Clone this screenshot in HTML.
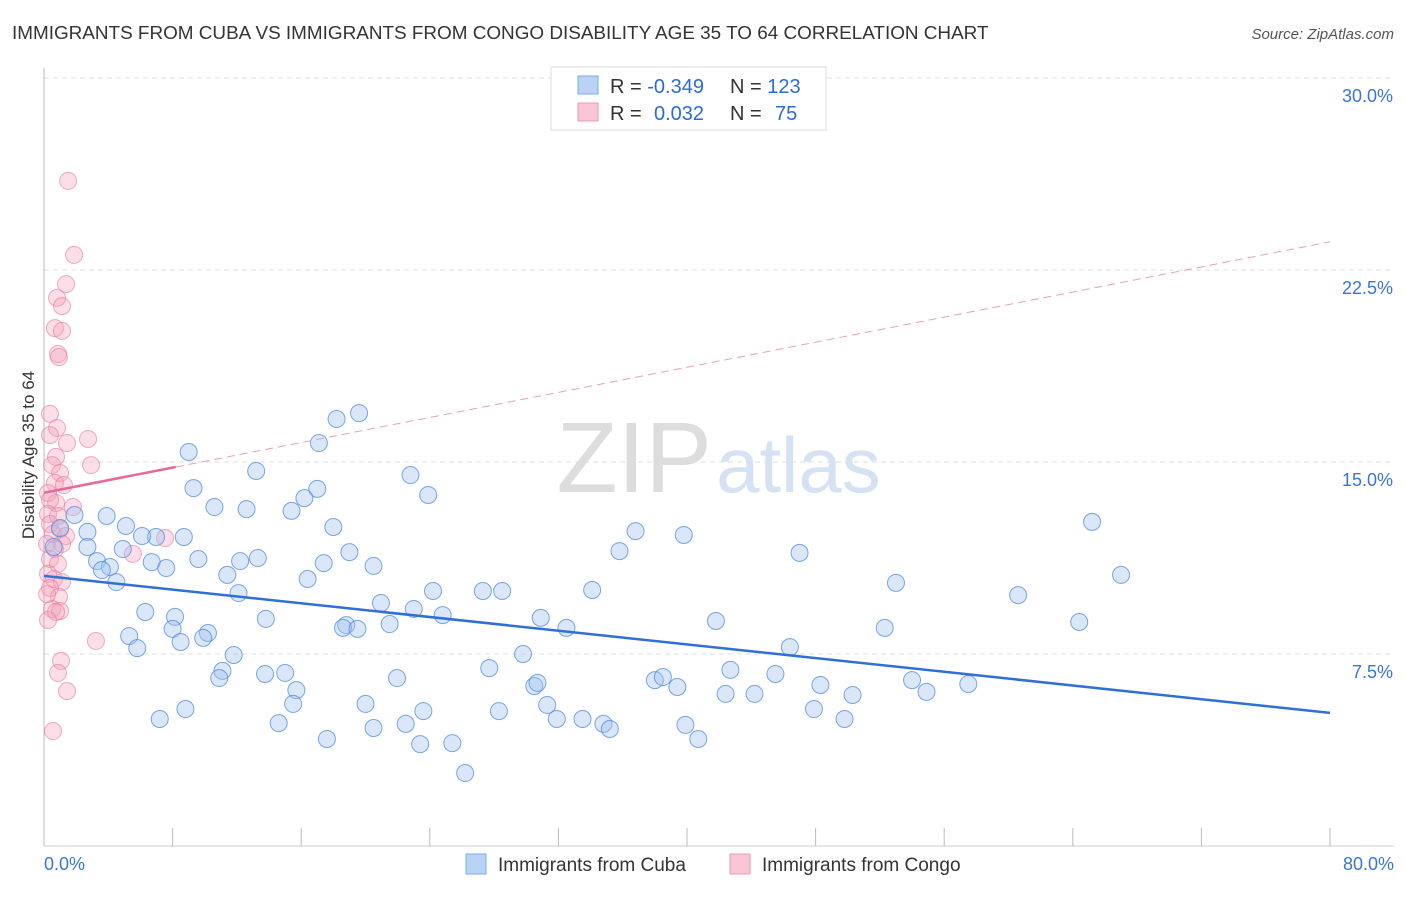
<!DOCTYPE html>
<html><head><meta charset="utf-8"><style>
body{margin:0;background:#fff;font-family:"Liberation Sans",sans-serif}
svg text{font-family:"Liberation Sans",sans-serif}
</style></head><body>
<svg id="c" width="1406" height="892">
<text x="12" y="39" font-size="18.9" fill="#333">IMMIGRANTS FROM CUBA VS IMMIGRANTS FROM CONGO DISABILITY AGE 35 TO 64 CORRELATION CHART</text>
<text x="1394" y="39" font-size="15" fill="#555" text-anchor="end" font-style="italic">Source: ZipAtlas.com</text>
<text x="34" y="455" font-size="17" fill="#333" text-anchor="middle" transform="rotate(-90 34 455)">Disability Age 35 to 64</text>
<text x="712" y="492" font-size="100" fill="#ddd" text-anchor="end" font-family="Liberation Serif">ZIP</text>
<text x="716" y="492" font-size="78" fill="#d4e2f4">atlas</text>
<g id="grid"></g><g id="pts"></g><g id="lines"></g>
<g>
<rect x="551" y="67" width="275" height="63" fill="#fff" stroke="#ddd"/>
<rect x="578" y="76" width="20" height="18" fill="#b9d3f5" stroke="#7aa8e8"/>
<rect x="578" y="103" width="20" height="18" fill="#f8c6d4" stroke="#ee9ab3"/>
<text x="610" y="93" font-size="20" fill="#333">R = <tspan fill="#2b6bd4">-0.349</tspan><tspan x="730">N = </tspan><tspan fill="#2b6bd4">123</tspan></text>
<text x="610" y="120" font-size="20" fill="#333">R = <tspan x="654" fill="#2b6bd4">0.032</tspan><tspan x="730">N = </tspan><tspan x="775" fill="#2b6bd4">75</tspan></text>
</g>
<g>
<rect x="466" y="854" width="20" height="20" fill="#b9d3f5" stroke="#7aa8e8"/>
<text x="498" y="871" font-size="19" fill="#333">Immigrants from Cuba</text>
<rect x="730" y="854" width="20" height="20" fill="#f8c6d4" stroke="#ee9ab3"/>
<text x="762" y="871" font-size="19" fill="#333">Immigrants from Congo</text>
</g>
</svg>
<script>
const xTicks=[0,8,16,24,32,40,48,56,64,72,80];
const yTicks=[7.5,15,22.5,30];
const cubaX=[9.0,18.2,19.6,17.1,22.8,23.9,13.2,17.0,16.2,15.4,9.3,10.6,12.6,18.0,36.8,39.8,35.8,47.0,65.2,67.0,53.0,60.6,64.4,52.3,41.8,46.4,3.9,5.1,2.7,1.0,1.9,0.6,2.7,4.9,3.3,4.1,3.6,4.5,6.97,6.7,7.6,9.6,11.4,12.2,13.3,17.4,16.4,19.0,20.5,12.1,20.96,23.0,24.8,24.2,27.3,28.5,34.1,30.9,32.5,21.5,18.8,18.6,19.5,13.8,8.15,6.3,10.2,9.9,8.0,8.5,5.3,5.8,11.8,11.1,10.9,13.75,15.0,15.7,15.5,20.0,21.96,23.6,22.5,20.5,14.6,17.6,23.4,25.4,26.2,27.7,28.3,29.8,30.5,30.7,31.3,31.9,33.5,34.8,35.2,39.9,40.7,38.0,38.5,39.4,42.7,42.4,44.2,45.5,47.9,48.3,49.8,50.3,54.0,54.9,57.5,8.7,6.1,7.2,8.8];
const cubaY=[15.39,16.68,16.91,15.74,14.49,13.71,14.65,13.95,13.59,13.09,13.98,13.24,13.16,12.46,12.30,12.15,11.52,11.45,12.66,10.59,10.28,9.80,8.75,8.52,8.79,7.77,12.89,12.50,12.27,12.42,12.93,11.68,11.68,11.60,11.13,10.90,10.78,10.31,12.07,11.09,10.86,11.21,10.59,11.13,11.25,11.05,10.43,11.48,10.94,9.88,9.49,9.26,9.02,9.96,9.96,9.96,10.00,8.91,8.52,8.67,8.63,8.52,8.48,8.87,8.95,9.14,8.32,8.13,8.48,7.97,8.20,7.73,7.46,6.84,6.56,6.72,6.76,6.09,5.55,5.55,6.56,5.27,4.77,4.61,4.80,4.18,3.98,4.02,2.85,6.95,5.27,7.50,6.25,6.37,5.51,4.96,4.96,4.77,4.57,4.73,4.18,6.48,6.60,6.21,6.88,5.94,5.94,6.72,5.35,6.29,4.96,5.90,6.48,6.02,6.33,12.07,12.11,4.96,5.35,5.39,6.56];
const congoX=[1.5,1.87,1.37,0.81,1.12,0.68,1.12,0.87,0.93,0.37,0.81,0.37,1.43,2.74,2.93,0.75,0.5,1.0,0.68,1.24,0.25,0.75,0.37,1.8,0.25,0.87,0.37,1.0,0.56,1.37,0.19,0.68,1.12,0.37,0.87,0.25,0.62,1.12,0.37,0.93,0.5,1.0,0.75,7.53,5.53,3.23,1.06,0.87,1.43,0.56,0.25,0.19];
const congoY=[25.98,23.09,21.95,21.41,21.09,20.23,20.12,19.22,19.10,16.88,16.33,16.05,15.74,15.90,14.88,15.20,14.88,14.57,14.18,14.10,13.79,13.40,13.52,13.24,12.97,12.89,12.58,12.38,12.19,12.11,11.80,11.60,11.80,11.21,11.02,10.63,10.43,10.31,10.08,9.73,9.26,9.18,9.14,12.03,11.41,8.01,7.23,6.76,6.05,4.49,8.83,9.84];
const cubaTrend=[0,10.55,80,5.2];
const congoTrend=[0,13.8,80,23.6];
const NS="http://www.w3.org/2000/svg";
const sx=v=>44+v/80*1286, sy=v=>846-v/7.5*192;
function mk(t,a,p){const e=document.createElementNS(NS,t);for(const k in a)e.setAttribute(k,a[k]);p.appendChild(e);return e;}
const grid=document.getElementById('grid');
yTicks.forEach(v=>{
 const l=mk('line',{x1:44,x2:1394,y1:sy(v),y2:sy(v),stroke:'#ddd','stroke-dasharray':'5,4'},grid);
 
 
 const t=mk('text',{x:1393,y:sy(v)+24,'font-size':18,fill:'#3b74d8','text-anchor':'end'},grid);t.textContent=v.toFixed(1)+'%';
 
 
});
const ax=mk('line',{x1:44,x2:44,y1:68,y2:846,stroke:'#bbb'},grid);


const bx=mk('line',{x1:44,x2:1394,y1:846,y2:846,stroke:'#ccc'},grid);


xTicks.forEach(v=>{if(v===0)return;
 const l=mk('line',{x1:sx(v),x2:sx(v),y1:828,y2:846,stroke:'#bbb'},grid);
 
 });
[[0,'start',44],[80,'end',1394]].forEach(([v,a,x])=>{const t=mk('text',{x:x,y:870,'font-size':18,fill:'#3b74d8','text-anchor':a},grid);t.textContent=v.toFixed(1)+'%';
 
 });
const pts=document.getElementById('pts');
congoX.forEach((x,i)=>{const c=mk('circle',{cx:sx(x),cy:sy(congoY[i]),r:8.5,fill:'rgba(244,160,186,0.35)',stroke:'rgba(232,120,155,0.6)'},pts);
 
 });
cubaX.forEach((x,i)=>{const c=mk('circle',{cx:sx(x),cy:sy(cubaY[i]),r:8.5,fill:'rgba(160,196,240,0.4)',stroke:'rgba(70,130,220,0.7)'},pts);
 
 });
const lg=document.getElementById('lines');
const cl=mk('line',{x1:sx(cubaTrend[0]),y1:sy(cubaTrend[1]),x2:sx(cubaTrend[2]),y2:sy(cubaTrend[3]),stroke:'#2f6fd6','stroke-width':2.5},lg);


const cut=8.2, ycut=congoTrend[1]+(congoTrend[3]-congoTrend[1])*cut/80;
const pl=mk('line',{x1:sx(congoTrend[0]),y1:sy(congoTrend[1]),x2:sx(cut),y2:sy(ycut),stroke:'#e8689a','stroke-width':2.5},lg);


const pd=mk('line',{x1:sx(cut),y1:sy(ycut),x2:sx(congoTrend[2]),y2:sy(congoTrend[3]),stroke:'#e8a0b8','stroke-width':1,'stroke-dasharray':'8,5'},lg);


</script>
</body></html>
